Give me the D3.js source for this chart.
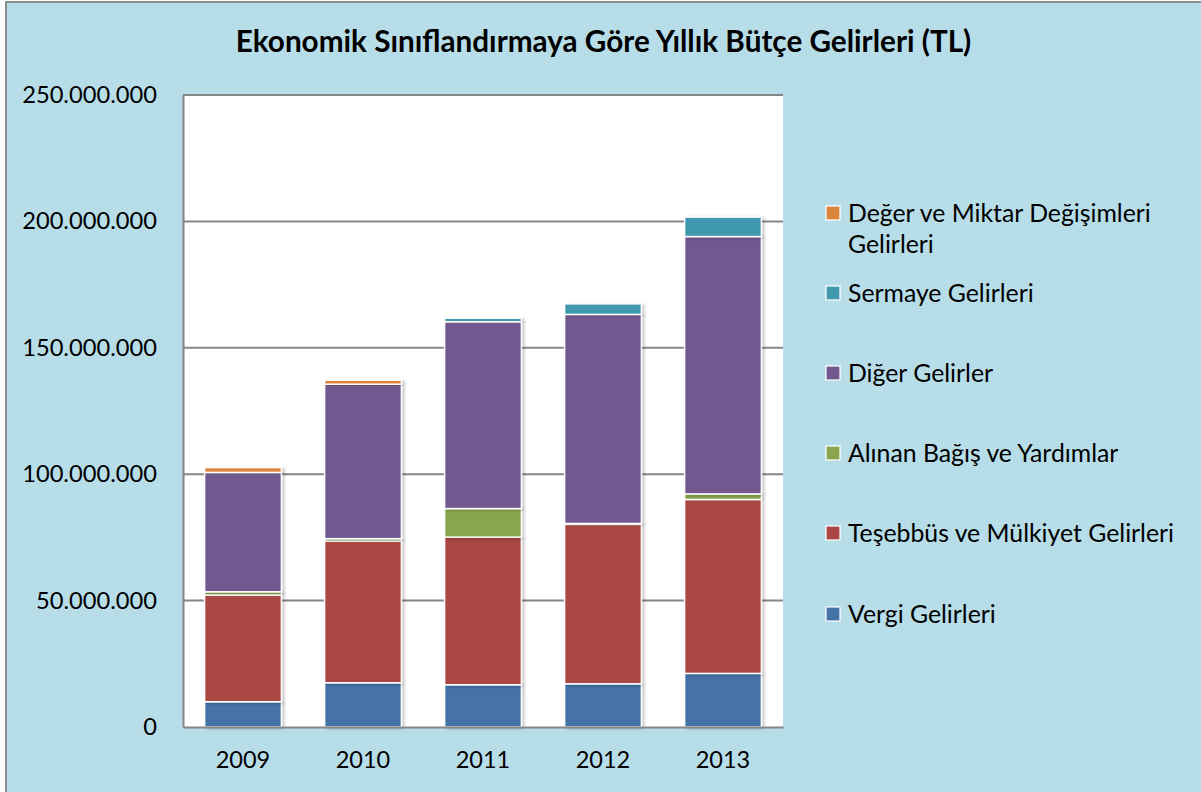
<!DOCTYPE html>
<html>
<head>
<meta charset="utf-8">
<script src="https://cdn.jsdelivr.net/npm/d3@7"></script>
<style>
  body { margin: 0; background: #fff; }
  text { font-family: Lato, "Open Sans", sans-serif; fill: #000; }
</style>
</head>
<body>
<div id="wrapper"></div>
<script>
// data (TL)
const years = ["2009", "2010", "2011", "2012", "2013"];
const vergi = [10000000, 17500000, 16700000, 17100000, 21200000];
const tesebbus = [42200000, 56000000, 58400000, 63000000, 68800000];
const alinan = [1300000, 1000000, 11300000, 400000, 2200000];
const diger = [47200000, 61100000, 73900000, 82700000, 101800000];
const sermaye = [0, 0, 1400000, 4200000, 7700000];
const deger = [1900000, 1600000, 0, 0, 0];
const seriesNames = [
    "Vergi Gelirleri",
    "Teşebbüs ve Mülkiyet Gelirleri",
    "Alınan Bağış ve Yardımlar",
    "Diğer Gelirler",
    "Sermaye Gelirleri",
    "Değer ve Miktar Değişimleri Gelirleri"
];
const seriesColors = ["#4572A7", "#AA4643", "#89A54E", "#71588F", "#4198AF", "#DB843D"];
const yTicks = [0, 50000000, 100000000, 150000000, 200000000, 250000000];

function drawChart() {
    const seriesValues = [vergi, tesebbus, alinan, diger, sermaye, deger];
    const table = years.map((y, i) => {
        const row = { year: y };
        seriesNames.forEach((n, k) => row[n] = seriesValues[k][i]);
        return row;
    });

    // dimensions
    let dimensions = {
        width: 1201,
        height: 792,
        margin: { top: 95, right: 418, bottom: 65, left: 183 }
    };
    dimensions.boundedWidth = dimensions.width - dimensions.margin.left - dimensions.margin.right;
    dimensions.boundedHeight = dimensions.height - dimensions.margin.top - dimensions.margin.bottom;

    const svg = d3.select("#wrapper").append("svg")
        .attr("width", dimensions.width)
        .attr("height", dimensions.height);

    const defs = svg.append("defs");
    const shadow = defs.append("filter").attr("id", "shadow")
        .attr("x", "-20%").attr("y", "-20%").attr("width", "140%").attr("height", "140%");
    shadow.append("feDropShadow")
        .attr("dx", 2).attr("dy", 1).attr("stdDeviation", 1.5)
        .attr("flood-color", "#000").attr("flood-opacity", 0.25);

    // chart background
    svg.append("rect")
        .attr("x", 6).attr("y", 2)
        .attr("width", 1200).attr("height", 800)
        .attr("fill", "#B7DDE8")
        .attr("stroke", "#8c8c8c")
        .attr("stroke-width", 2);

    svg.append("text")
        .attr("x", 603.5)
        .attr("y", 52)
        .attr("text-anchor", "middle")
        .style("font-size", "29.7px")
        .style("font-weight", "bold")
        .text("Ekonomik Sınıflandırmaya Göre Yıllık Bütçe Gelirleri (TL)");

    const bounds = svg.append("g")
        .attr("transform", `translate(${dimensions.margin.left},${dimensions.margin.top})`);

    bounds.append("rect")
        .attr("width", dimensions.boundedWidth)
        .attr("height", dimensions.boundedHeight)
        .attr("fill", "#ffffff");

    // scales
    const xScale = d3.scaleBand()
        .domain(years)
        .range([0, dimensions.boundedWidth])
        .paddingInner(0.36)
        .paddingOuter(0.18);
    const yScale = d3.scaleLinear()
        .domain([0, 250000000])
        .range([dimensions.boundedHeight, 0]);

    // gridlines
    bounds.append("g")
        .selectAll("line")
        .data(yTicks.slice(1))
        .join("line")
        .attr("x1", 0)
        .attr("x2", dimensions.boundedWidth)
        .attr("y1", d => yScale(d))
        .attr("y2", d => yScale(d))
        .attr("stroke", "#868686")
        .attr("stroke-width", 2);

    // stacked bars
    const stack = d3.stack().keys(seriesNames);
    const stacked = stack(table);
    bounds.append("g")
        .selectAll("g")
        .data(stacked)
        .join("g")
        .attr("fill", (d, i) => seriesColors[i])
        .selectAll("rect")
        .data(d => d.filter(s => s[1] - s[0] > 0))
        .join("rect")
        .attr("x", d => xScale(d.data.year))
        .attr("width", xScale.bandwidth())
        .attr("y", d => yScale(d[1]))
        .attr("height", d => yScale(d[0]) - yScale(d[1]))
        .attr("stroke", "#ffffff")
        .attr("stroke-width", 1.5)
        .attr("filter", "url(#shadow)");

    // axes
    const yAxisGenerator = d3.axisLeft(yScale)
        .tickValues(yTicks)
        .tickSize(0)
        .tickPadding(26)
        .tickFormat(d => d3.format(",")(d).replace(/,/g, "."));
    const yAxis = bounds.append("g").call(yAxisGenerator);
    yAxis.select(".domain").attr("stroke", "#868686").attr("stroke-width", 2);
    yAxis.selectAll("text")
        .style("font-family", "Lato, sans-serif")
        .style("font-size", "23.7px");

    const xAxisGenerator = d3.axisBottom(xScale)
        .tickSize(0)
        .tickPadding(24);
    const xAxis = bounds.append("g")
        .attr("transform", `translate(0,${dimensions.boundedHeight})`)
        .call(xAxisGenerator);
    xAxis.select(".domain").attr("stroke", "#868686").attr("stroke-width", 2);
    xAxis.selectAll("text")
        .style("font-family", "Lato, sans-serif")
        .style("font-size", "23.5px");

    // legend (reverse order)
    const legendRows = [
        { name: 5, lines: ["Değer ve Miktar Değişimleri", "Gelirleri"], y: 213 },
        { name: 4, lines: ["Sermaye Gelirleri"], y: 293 },
        { name: 3, lines: ["Diğer Gelirler"], y: 373 },
        { name: 2, lines: ["Alınan Bağış ve Yardımlar"], y: 453 },
        { name: 1, lines: ["Teşebbüs ve Mülkiyet Gelirleri"], y: 533 },
        { name: 0, lines: ["Vergi Gelirleri"], y: 614 }
    ];
    const legend = svg.append("g");
    const items = legend.selectAll("g")
        .data(legendRows)
        .join("g")
        .attr("transform", d => `translate(826,${d.y})`);
    items.append("rect")
        .attr("x", 0).attr("y", -7)
        .attr("width", 14).attr("height", 14)
        .attr("fill", d => seriesColors[d.name])
        .attr("stroke", "#ffffff")
        .attr("stroke-width", 1.2);
    items.append("text")
        .attr("x", 22)
        .attr("y", 0)
        .style("font-size", "24.8px")
        .selectAll("tspan")
        .data(d => d.lines)
        .join("tspan")
        .attr("x", 22)
        .attr("dy", (d, i) => i === 0 ? "0.35em" : "31px")
        .text(d => d);
}

drawChart();
</script>
</body>
</html>
